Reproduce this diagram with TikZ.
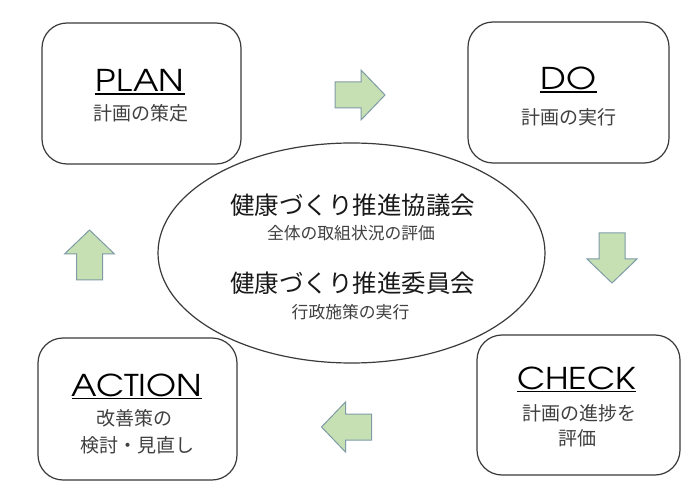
\documentclass[tikz,border=0pt]{standalone}
\usepackage{fontspec}
\setmainfont{Noto Sans CJK JP}
\newfontfamily\latinfont[Extension=.otf, FakeStretch=1.15]{texgyreadventor-regular}
\usetikzlibrary{calc}
\definecolor{arrfill}{HTML}{C6E0B4}
\definecolor{arrline}{HTML}{7F9BA6}
\definecolor{boxline}{HTML}{3A3A3A}
\definecolor{subtext}{HTML}{404040}
\tikzset{
  pdcabox/.style={draw=boxline, line width=1.2pt, rounded corners=25pt, fill=white, inner sep=0pt},
  bigword/.style={inner sep=0pt, anchor=base, font=\latinfont\fontsize{30}{30}\selectfont, text=black},
  boxsub/.style={inner sep=0pt, anchor=base, font=\fontsize{19}{19}\selectfont, text=subtext},
  eltitle/.style={inner sep=0pt, anchor=base, font=\fontsize{24.5}{24.5}\selectfont, text=black!90},
  elsub/.style={inner sep=0pt, anchor=base, font=\fontsize{16.8}{16.8}\selectfont, text=subtext},
  uline/.style={line width=1.2pt, black},
  blockarrow/.pic={\draw[fill=arrfill, draw=arrline, line width=1pt, line join=miter]
      (-25,-13) -- (1,-13) -- (1,-25) -- (25,0) -- (1,25) -- (1,13) -- (-25,13) -- cycle;}
}
\begin{document}
\begin{tikzpicture}[x=1pt, y=-1pt]
\useasboundingbox[fill=white] (0,0) rectangle (683,497);

% central ellipse
\draw[draw=boxline, line width=1.2pt] (351.5,253) ellipse [x radius=193.5, y radius=110];
\coordinate (ell) at (351.5,253);
\node[eltitle] (t1) at (352.5,{205+0.38*24.5}) {健康づくり推進協議会};
\node[elsub]   (s1) at (351,{233+0.38*16.8}) {全体の取組状況の評価};
\node[eltitle] (t2) at (352.5,{283+0.38*24.5}) {健康づくり推進委員会};
\node[elsub]   (s2) at (350.5,{312+0.38*16.8}) {行政施策の実行};

% boxes
\node[pdcabox, minimum width=199pt, minimum height=141pt] (plan) at (141.5,93.5) {};
\node[pdcabox, minimum width=201pt, minimum height=141pt] (do) at (568.5,92.5) {};
\node[pdcabox, minimum width=203pt, minimum height=140pt] (check) at (578.5,405) {};
\node[pdcabox, minimum width=199pt, minimum height=142pt] (action) at (137.5,409) {};

% labels
\node[bigword] (planw) at (140,92) {PLAN};
\draw[uline] ([yshift=-2pt]planw.base west) -- ([yshift=-2pt]planw.base east);
\node[boxsub] (plans) at (140.5,{113+0.38*19}) {計画の策定};

\node[bigword] (dow) at (568.5,90) {DO};
\draw[uline] ([yshift=-2pt]dow.base west) -- ([yshift=-2pt]dow.base east);
\node[boxsub] (dos) at (569,{117+0.38*19}) {計画の実行};

\node[bigword] (checkw) at (576.5,389) {CHECK};
\draw[uline] ([yshift=-2.5pt]checkw.base west) -- ([yshift=-2.5pt]checkw.base east);
\node[boxsub] (checks1) at (579.5,{413+0.38*19}) {計画の進捗を};
\node[boxsub] (checks2) at (577,{438+0.38*19}) {評価};

\node[bigword] (actionw) at (137,396) {ACTION};
\draw[uline] ([yshift=-2.5pt]actionw.base west) -- ([yshift=-2.5pt]actionw.base east);
\node[boxsub] (actions1) at (134,{418+0.38*19}) {改善策の};
\node[boxsub] (actions2) at (137.5,{445+0.38*19}) {検討・見直し};

% block arrows
\pic (arrright) at (360,95) {blockarrow};
\pic[rotate=-90] (arrdown) at (612,258) {blockarrow};
\pic[rotate=180] (arrleft) at (346.5,427) {blockarrow};
\pic[rotate=90] (arrup) at (89.5,255) {blockarrow};
\end{tikzpicture}
\end{document}
